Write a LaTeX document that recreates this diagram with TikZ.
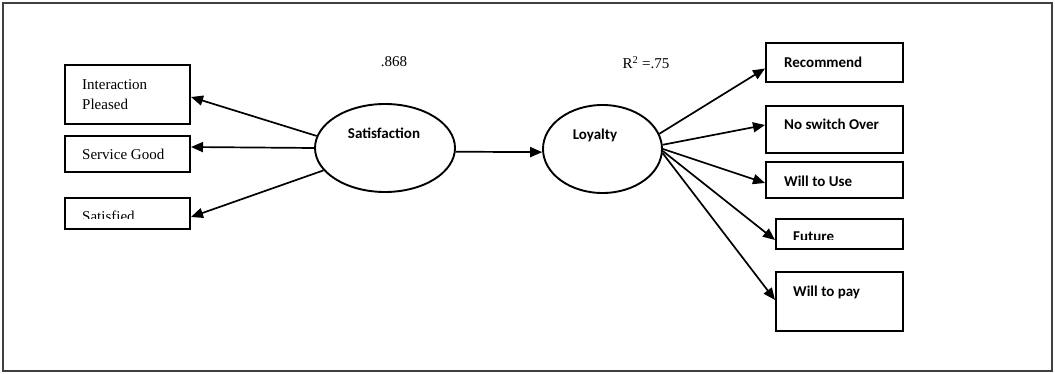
\documentclass[tikz,border=0pt]{standalone}
\usepackage{fontspec}
\setmainfont{Liberation Serif}
\newfontfamily\calfont{Carlito}
\usetikzlibrary{arrows.meta,shapes.geometric}
\tikzset{
  x=1pt,y=-1pt,
  box/.style={draw,line width=2pt,rectangle,inner sep=0pt},
  latent/.style={draw,line width=1.9pt,ellipse,inner sep=0pt},
  serlab/.style={font=\fontsize{15}{19}\selectfont,inner sep=0pt,anchor=base west,align=left},
  callab/.style={font=\calfont\bfseries\fontsize{15}{19}\selectfont,inner sep=0pt,anchor=base west},
  conn/.style={line width=1.7pt,-{Triangle[length=12pt,width=10pt]}}
}
\begin{document}
\begin{tikzpicture}
\useasboundingbox (0,0) rectangle (1055,374);
\fill[white] (0,0) rectangle (1055,374);
\draw[line width=1.8pt,black!75] (3,3) rectangle (1052,371);

% left indicator boxes
\node[box,minimum width=125pt,minimum height=59pt] (ip) at (127.5,94.5) {};
\node[box,minimum width=125pt,minimum height=36pt] (sg) at (127.5,154) {};
\node[box,minimum width=125pt,minimum height=31pt] (sd) at (127.5,213.5) {};
\node[serlab] (tip1) at (82,90) {Interaction};
\node[serlab] (tip2) at (82,110) {Pleased};
\node[serlab] (tsg) at (82,160) {Service Good};
\begin{scope}
\clip (66,199) rectangle (189,219);
\node[serlab] (tsd) at (82,222) {Satisfied};
\end{scope}

% latent variables
\node[latent,minimum width=140pt,minimum height=88pt] (sat) at (385,148) {};
\node[callab,anchor=center] (tsat) at (384,133) {Satisfaction};
\node[latent,minimum width=119pt,minimum height=88pt] (loy) at (602.5,149) {};
\node[callab,anchor=center] (tloy) at (595,135) {Loyalty};

\node[font=\fontsize{15}{18}\selectfont,inner sep=0pt] (r1) at (394,62) {.868};
\node[font=\fontsize{15}{18}\selectfont,inner sep=0pt] (r2) at (646,63) {R\textsuperscript{2} =.75};

% right indicator boxes
\node[box,minimum width=137pt,minimum height=39pt] (rec) at (834.5,62.5) {};
\node[box,minimum width=137pt,minimum height=47pt] (nso) at (834.5,129.5) {};
\node[box,minimum width=137pt,minimum height=36pt] (wtu) at (834.5,180) {};
\node[box,minimum width=127pt,minimum height=30pt] (fut) at (839.5,234) {};
\node[box,minimum width=127pt,minimum height=59pt] (wtp) at (839.5,301.5) {};
\node[callab] (trec) at (784,68) {Recommend};
\node[callab] (tnso) at (784,130) {No switch Over};
\node[callab] (twtu) at (784,187) {Will to Use};
\begin{scope}
\clip (777,220) rectangle (902,239.5);
\node[callab] (tfut) at (793,242) {Future};
\end{scope}
\node[callab] (twtp) at (793,296) {Will to pay};

% connectors
\draw[conn] (sat.170) -- ([yshift=-2.5pt]ip.east);
\draw[conn] (sat.180) -- ([yshift=7pt]sg.east);
\draw[conn] (sat.200) -- ([yshift=-3.5pt]sd.east);
\draw[conn] (sat.-3) -- (loy.183);
\draw[conn] (loy.15) -- ([yshift=-6pt]rec.west);
\draw[conn] (loy.4) -- ([yshift=4.5pt]nso.west);
\draw[conn] (loy.0) -- ([yshift=-3pt]wtu.west);
\draw[conn] (loy.-2) -- ([yshift=-6pt]fut.west);
\draw[conn] (loy.-4) -- ([yshift=1.5pt]wtp.west);
\end{tikzpicture}
\end{document}
